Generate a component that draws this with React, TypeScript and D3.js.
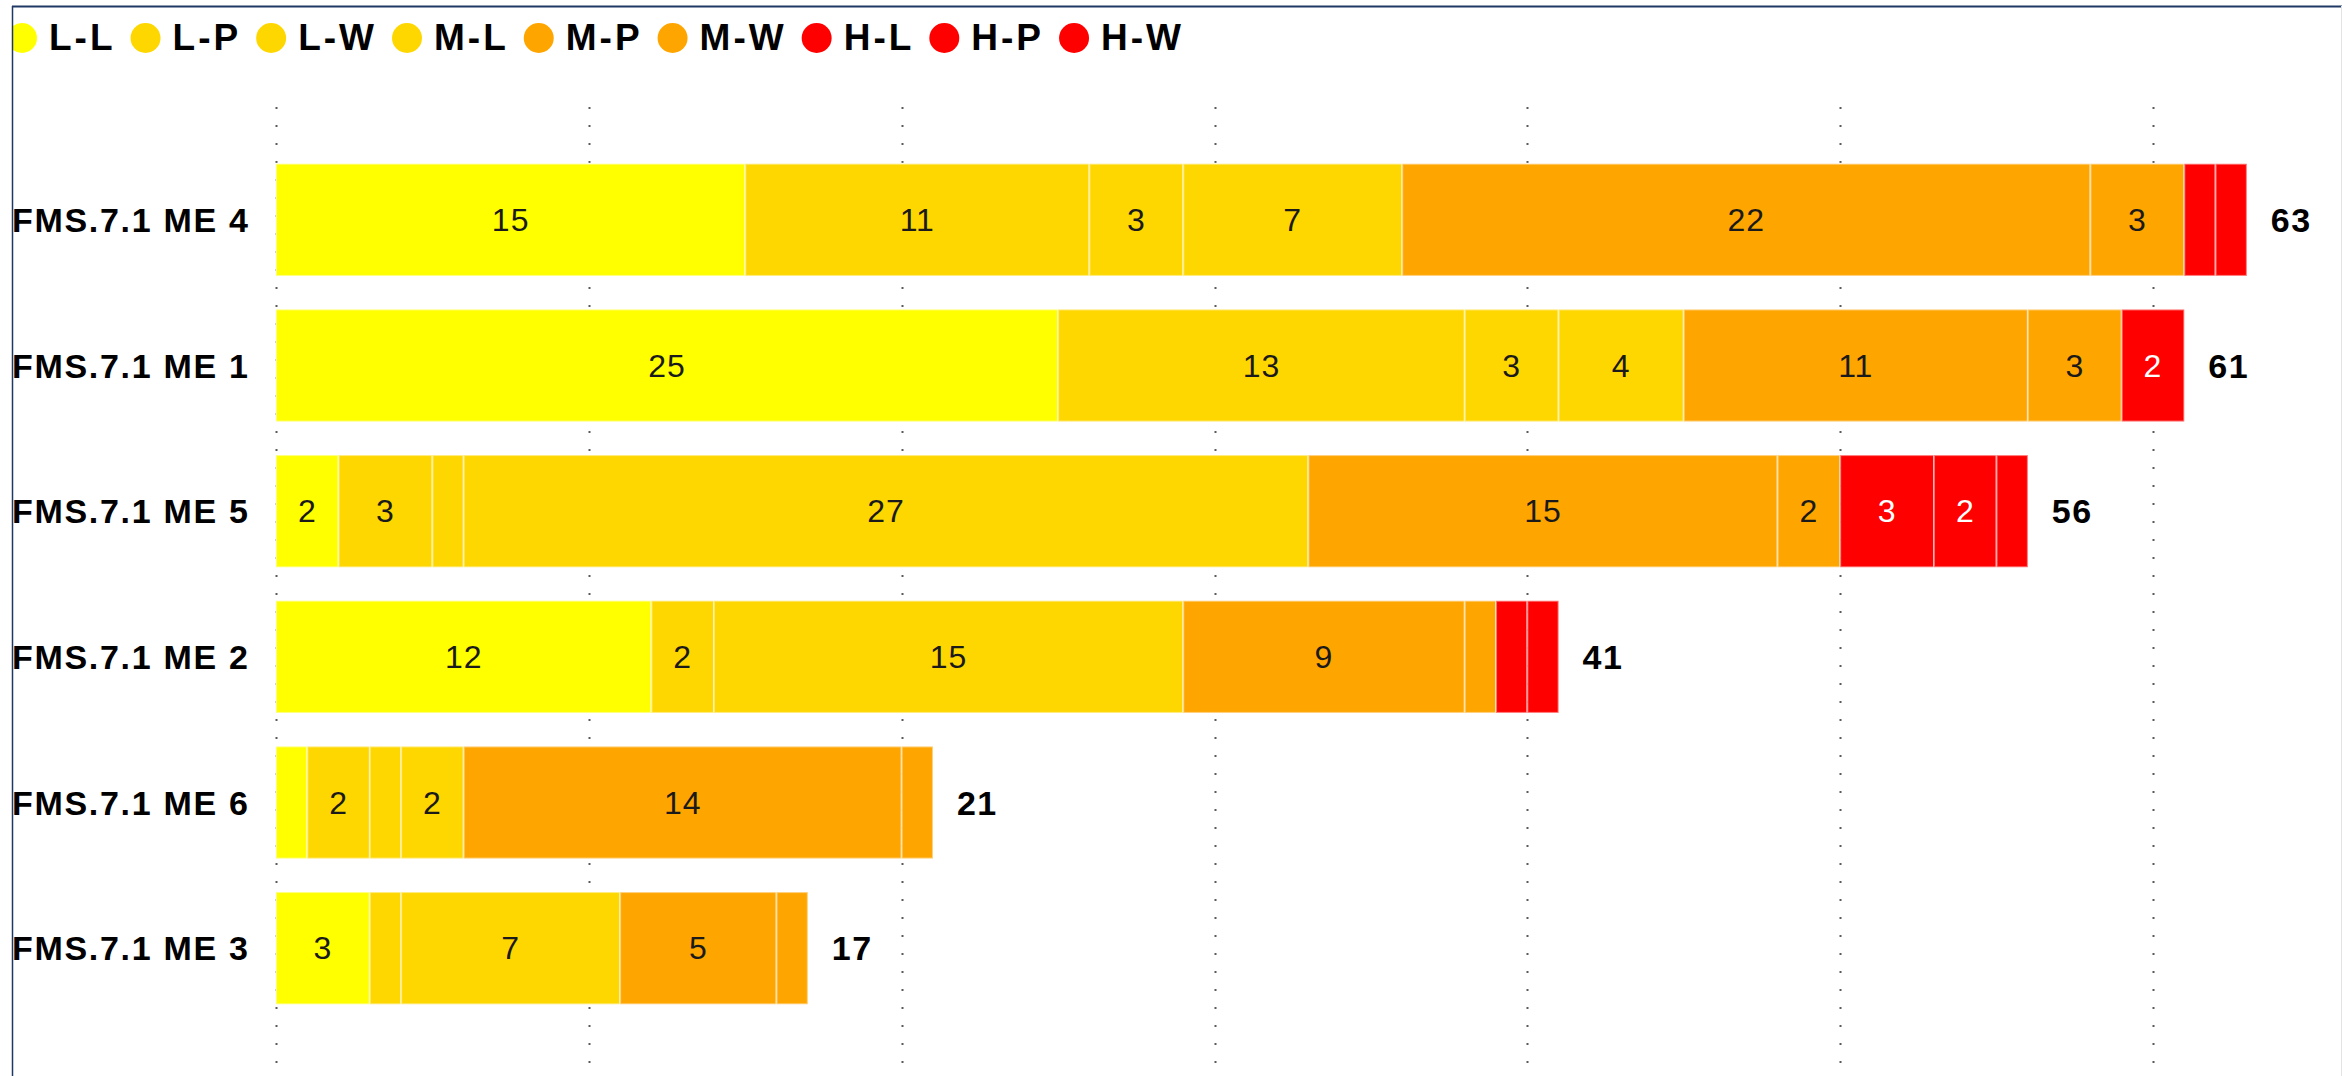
import React, { useEffect, useRef } from "react";
import * as d3 from "d3";

const W = 2342;
const H = 1076;

const categories = ["FMS.7.1 ME 4", "FMS.7.1 ME 1", "FMS.7.1 ME 5", "FMS.7.1 ME 2", "FMS.7.1 ME 6", "FMS.7.1 ME 3"];
const seriesNames = ["L-L", "L-P", "L-W", "M-L", "M-P", "M-W", "H-L", "H-P", "H-W"];
const seriesColors = ["#FFFF00", "#FFD700", "#FFD700", "#FFD700", "#FFA500", "#FFA500", "#FF0000", "#FF0000", "#FF0000"];

const LL = [15, 25, 2, 12, 1, 3];
const LP = [11, 13, 3, 2, 2, 1];
const LWv = [3, 3, 1, 15, 1, 7];
const ML = [7, 4, 27, 0, 2, 0];
const MP = [22, 11, 15, 9, 14, 5];
const MW = [3, 3, 2, 1, 1, 1];
const HL = [1, 2, 3, 1, 0, 0];
const HP = [1, 0, 2, 1, 0, 0];
const HW = [0, 0, 1, 0, 0, 0];
const seriesValues = [LL, LP, LWv, ML, MP, MW, HL, HP, HW];
const xTicks = [0, 10, 20, 30, 40, 50, 60];

const FONT = "'Liberation Sans', Arial, sans-serif";

export default function App() {
  const ref = useRef<SVGSVGElement | null>(null);

  useEffect(() => {
    const svg = d3.select(ref.current);
    svg.selectAll("*").remove();

    const clip = svg.append("defs").append("clipPath").attr("id", "frame");
    clip.append("rect").attr("x", 13).attr("y", 7).attr("width", W).attr("height", H);

    const g = svg.append("g").attr("clip-path", "url(#frame)");

    const x = d3.scaleLinear().domain([0, 60]).range([276, 2153]);
    const y = d3.scaleBand<string>().domain(categories).range([147, 1021]).paddingInner(0.23).paddingOuter(0.115);

    // gridlines
    g.append("g")
      .selectAll("line")
      .data(xTicks)
      .join("line")
      .attr("x1", (d) => Math.round(x(d)) + 0.5)
      .attr("x2", (d) => Math.round(x(d)) + 0.5)
      .attr("y1", 107)
      .attr("y2", H)
      .attr("stroke", "#5a5a5a")
      .attr("stroke-width", 2)
      .attr("stroke-dasharray", "2 16");

    // stacked data
    const rows = categories.map((c, i) => {
      const r: any = { cat: c };
      seriesNames.forEach((s, j) => (r[s] = seriesValues[j][i]));
      return r;
    });
    const stack = d3.stack<any>().keys(seriesNames);
    const stacked = stack(rows);

    const segG = g.append("g");
    stacked.forEach((layer, j) => {
      layer.forEach((seg, i) => {
        const v = seg[1] - seg[0];
        if (v <= 0) return;
        const x0 = x(seg[0]);
        const x1 = x(seg[1]);
        const yy = y(categories[i])!;
        segG
          .append("rect")
          .attr("x", x0)
          .attr("y", yy)
          .attr("width", x1 - x0)
          .attr("height", y.bandwidth())
          .attr("fill", seriesColors[j])
          .attr("stroke", "rgba(255,255,255,0.45)")
          .attr("stroke-width", 2);
        if (v >= 2) {
          segG
            .append("text")
            .attr("x", (x0 + x1) / 2)
            .attr("y", yy + y.bandwidth() / 2)
            .attr("text-anchor", "middle")
            .attr("dominant-baseline", "central")
            .attr("font-family", FONT)
            .attr("font-size", 32)
            .attr("letter-spacing", 1)
            .attr("fill", j >= 6 ? "#FFFFFF" : "#1a1a1a")
            .text(String(v));
        }
      });
    });

    // totals
    categories.forEach((c, i) => {
      const total = d3.sum(seriesValues, (arr) => arr[i]);
      g.append("text")
        .attr("x", x(total) + 24)
        .attr("y", y(c)! + y.bandwidth() / 2)
        .attr("dominant-baseline", "central")
        .attr("font-family", FONT)
        .attr("font-weight", "bold")
        .attr("font-size", 34)
        .attr("letter-spacing", 1.5)
        .attr("fill", "#000")
        .text(String(total));
    });

    // category labels
    categories.forEach((c) => {
      g.append("text")
        .attr("x", 12)
        .attr("y", y(c)! + y.bandwidth() / 2)
        .attr("dominant-baseline", "central")
        .attr("font-family", FONT)
        .attr("font-weight", "bold")
        .attr("font-size", 34)
        .attr("letter-spacing", 1.7)
        .attr("fill", "#000")
        .text(c);
    });

    // legend
    let lx = 7;
    const ly = 37;
    seriesNames.forEach((s, j) => {
      g.append("circle")
        .attr("cx", lx + 15)
        .attr("cy", ly + 1)
        .attr("r", 15)
        .attr("fill", seriesColors[j]);
      const t = g
        .append("text")
        .attr("x", lx + 30 + 12)
        .attr("y", ly)
        .attr("dominant-baseline", "central")
        .attr("font-family", FONT)
        .attr("font-weight", "bold")
        .attr("font-size", 37)
        .attr("letter-spacing", 3)
        .attr("fill", "#000")
        .text(s);
      const w = (t.node() as SVGTextElement).getComputedTextLength();
      lx = lx + 30 + 12 + w + 15;
    });

    // frame
    svg.append("line").attr("x1", 12).attr("x2", W).attr("y1", 6.5).attr("y2", 6.5).attr("stroke", "#203864").attr("stroke-width", 2);
    svg.append("line").attr("x1", 12.5).attr("x2", 12.5).attr("y1", 6).attr("y2", H).attr("stroke", "#203864").attr("stroke-width", 1.5);
    svg.append("line").attr("x1", 2341.5).attr("x2", 2341.5).attr("y1", 6).attr("y2", H).attr("stroke", "#e4e4e4").attr("stroke-width", 1);
  }, []);

  return (
    <div style={{ position: "fixed", left: 0, top: 0, width: W, height: H, background: "#fff" }}>
      <svg ref={ref} width={W} height={H} style={{ display: "block" }} />
    </div>
  );
}
